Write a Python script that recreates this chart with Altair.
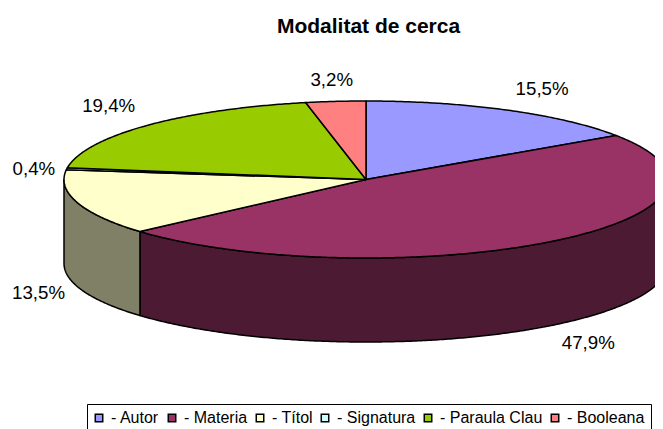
import altair as alt
import numpy as np
import pandas as pd

title = "Modalitat de cerca"
categories = ["Autor", "Materia", "Títol", "Signatura", "Paraula Clau", "Booleana"]
values = [15.5, 47.9, 13.5, 0.4, 19.4, 3.2]
labels = ["15,5%", "47,9%", "13,5%", "0,4%", "19,4%", "3,2%"]
colors = ["#9999FF", "#993366", "#FFFFCC", "#CCFFFF", "#99CC00", "#FF8080"]
walls = ["#4D4D80", "#4D1A33", "#808066", "#668080", "#4D6600", "#804040"]

# pie geometry, in the pixels of the plot area
CX, CY, RX, RY, DEPTH = 358, 131.5, 302, 78.5, 84
# distance of each label from the centre, as a factor of the radii
label_kx = [1.245, 1.2, 1.135, 1.11, 1.175, 1.13]
label_ky = [1.30, 1.28, 1.26, 0.97, 1.36, 1.28]


def point(t, drop=0.0):
    return [float(CX + RX * np.sin(t)), float(CY - RY * np.cos(t) + drop)]


def feature(ring, **props):
    return {"type": "Feature", "properties": props,
            "geometry": {"type": "Polygon", "coordinates": [ring + [ring[0]]]}}


edges = np.cumsum([0] + values) / sum(values) * 2 * np.pi
top_features, wall_features, label_rows = [], [], []
for i, name in enumerate(categories):
    a, b = edges[i], edges[i + 1]
    arc = [point(t) for t in np.linspace(a, b, max(4, int((b - a) * 120)))]
    top_features.append(feature([[CX, CY]] + arc, name=name))
    lo, hi = max(a, np.pi / 2), min(b, 3 * np.pi / 2)
    if hi > lo:
        ts = np.linspace(lo, hi, max(4, int((hi - lo) * 120)))
        ring = [point(t) for t in ts] + [point(t, DEPTH) for t in ts[::-1]]
        wall_features.append(feature(ring, wall=walls[i]))
    mid = (a + b) / 2
    drop = DEPTH if np.pi / 2 < mid < 3 * np.pi / 2 else 0
    label_rows.append({
        "lon": CX + label_kx[i] * RX * np.sin(mid),
        "lat": CY - label_ky[i] * RY * np.cos(mid) + drop,
        "label": labels[i],
    })

projection = alt.Projection(type="identity", scale=1, translate=[0, 0])


def geo(features):
    return alt.InlineData(values={"type": "FeatureCollection", "features": features},
                          format=alt.DataFormat(type="json", property="features"))


wall_layer = alt.Chart(geo(wall_features)).mark_geoshape(
    stroke="black", strokeWidth=1.5, strokeJoin="round"
).encode(color=alt.Color("properties.wall:N", scale=None)).project(**projection.to_dict())

top_layer = alt.Chart(geo(top_features)).mark_geoshape(
    stroke="black", strokeWidth=1.5, strokeJoin="round"
).encode(
    color=alt.Color(
        "properties.name:N",
        scale=alt.Scale(domain=categories, range=colors),
        legend=alt.Legend(
            title=None, orient="none", legendX=79, legendY=356, direction="horizontal",
            columns=6, columnPadding=5, gridAlign="none", padding=6,
            strokeColor="black", fillColor="white",
            symbolType="square", symbolSize=56, symbolStrokeColor="black",
            symbolStrokeWidth=1.5, labelOffset=4, symbolOffset=-2,
            labelFont="Liberation Sans", labelFontSize=16, labelColor="black",
            labelExpr="'- ' + datum.label", labelLimit=0,
        ),
    )
).project(**projection.to_dict())

text_layer = alt.Chart(pd.DataFrame(label_rows)).mark_text(
    font="Liberation Sans", fontSize=18.7, color="black", align="center", baseline="middle"
).encode(
    longitude="lon:Q", latitude="lat:Q", text="label:N"
).project(**projection.to_dict())

chart = alt.layer(wall_layer, top_layer, text_layer).resolve_scale(color="independent").properties(
    width=647,
    height=381,
    autosize=alt.AutoSizeParams(type="none"),
    padding={"left": 0, "top": 40, "right": 0, "bottom": 0},
    title=alt.TitleParams(
        title, font="Liberation Sans", fontSize=21, fontWeight="bold", color="black",
        anchor="middle", frame="group", dx=37, offset=11,
    ),
).configure_view(stroke=None).configure(background="white")

chart.save("out.html", embed_options={"renderer": "svg", "actions": False})
